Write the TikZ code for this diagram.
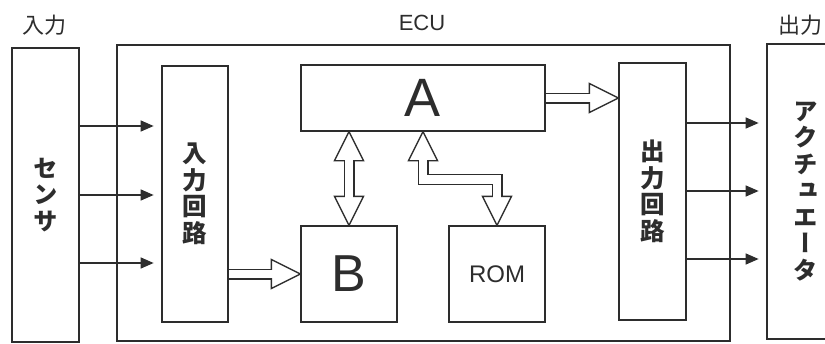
\documentclass[tikz,border=0pt]{standalone}
\usepackage{fontspec}
\setmainfont{Liberation Sans}
\newfontfamily\jp{Noto Sans CJK JP}
\newfontfamily\jpv{Noto Sans CJK JP}[RawFeature=+vert]
\usetikzlibrary{arrows.meta,calc}
\definecolor{ink}{RGB}{45,45,45}
\newcommand\hhead[2]{%
  \begin{scope}[shift={(#1)}, rotate=#2]
    \fill[white] (0,0) -- (-29,-14.5) -- (-29,14.5) -- cycle;
    \draw[line join=miter, miter limit=10] (-29,-4.2) -- (-29,-14.5) -- (0,0) -- (-29,14.5) -- (-29,4.2);
  \end{scope}}
\begin{document}
\begin{tikzpicture}[x=1pt,y=-1pt, line width=1.3pt, color=ink,
  box/.style={draw, rectangle, inner sep=0pt, anchor=center},
  jpbox/.style={font=\jpv\bfseries\fontsize{24.5}{26.5}\selectfont, align=center},
  jplabel/.style={font=\jp\fontsize{22}{24}\selectfont},
  sarrow/.style={-{Triangle[length=13pt,width=11pt]}},
  hshaft/.style={double=white, double distance=8.4pt, line join=miter}]
\useasboundingbox (0,0) rectangle (825,343);
\clip (0,0) rectangle (825,343);
% boxes
\node[box, minimum width=613pt, minimum height=296pt] (ecu) at (423.5,193) {};
\node[box, minimum width=67pt, minimum height=294pt, jpbox] (sensor) at (45.5,195) {セ\\ン\\サ};
\node[box, minimum width=66pt, minimum height=256pt, jpbox] (inc) at (195,194) {入\\力\\回\\路};
\node[box, minimum width=244pt, minimum height=66pt, font=\fontsize{54}{54}\selectfont] (A) at (423,98) {A};
\node[box, minimum width=96pt, minimum height=96pt, font=\fontsize{52}{52}\selectfont] (B) at (349,274) {B};
\node[box, minimum width=96pt, minimum height=96pt, font=\fontsize{24}{24}\selectfont] (ROM) at (497,274) {ROM};
\node[box, minimum width=67pt, minimum height=257pt, jpbox] (outc) at (652.5,191.5) {出\\力\\回\\路};
\node[box, minimum width=78pt, minimum height=295pt, jpbox] (act) at (806,191.5) {ア\\ク\\チ\\ュ\\エ\\ー\\タ};
% labels
\node[jplabel] (lin) at (44,25) {入力};
\node[font=\fontsize{22}{24}\selectfont] (lecu) at (422,23) {ECU};
\node[jplabel] (lout) at (800,25) {出力};
% simple arrows
\draw[sarrow] (sensor.east |- 0,126) -- +(74,0);
\draw[sarrow] (sensor.east |- 0,195) -- +(74,0);
\draw[sarrow] (sensor.east |- 0,263) -- +(74,0);
\draw[sarrow] (outc.east |- 0,123) -- +(72,0);
\draw[sarrow] (outc.east |- 0,191) -- +(72,0);
\draw[sarrow] (outc.east |- 0,259) -- +(72,0);
% hollow arrows
\draw[hshaft] ($(B.north |- A.south)+(0,29)$) -- ($(B.north)+(0,-29)$);
\hhead{B.north |- A.south}{90}
\hhead{B.north}{-90}
\draw[hshaft] ($(A.south)+(0,29)$) -- ($(A.south)+(0,48)$) -| ($(ROM.north)+(0,-29)$);
\hhead{A.south}{90}
\hhead{ROM.north}{-90}
\draw[hshaft] ($(inc.east |- B.west)+(0.65,0)$) -- ($(B.west)+(-29,0)$);
\hhead{B.west}{0}
\draw[hshaft] ($(A.east)+(0.65,0)$) -- ($(outc.west |- A.east)+(-29,0)$);
\hhead{outc.west |- A.east}{0}
\end{tikzpicture}
\end{document}
